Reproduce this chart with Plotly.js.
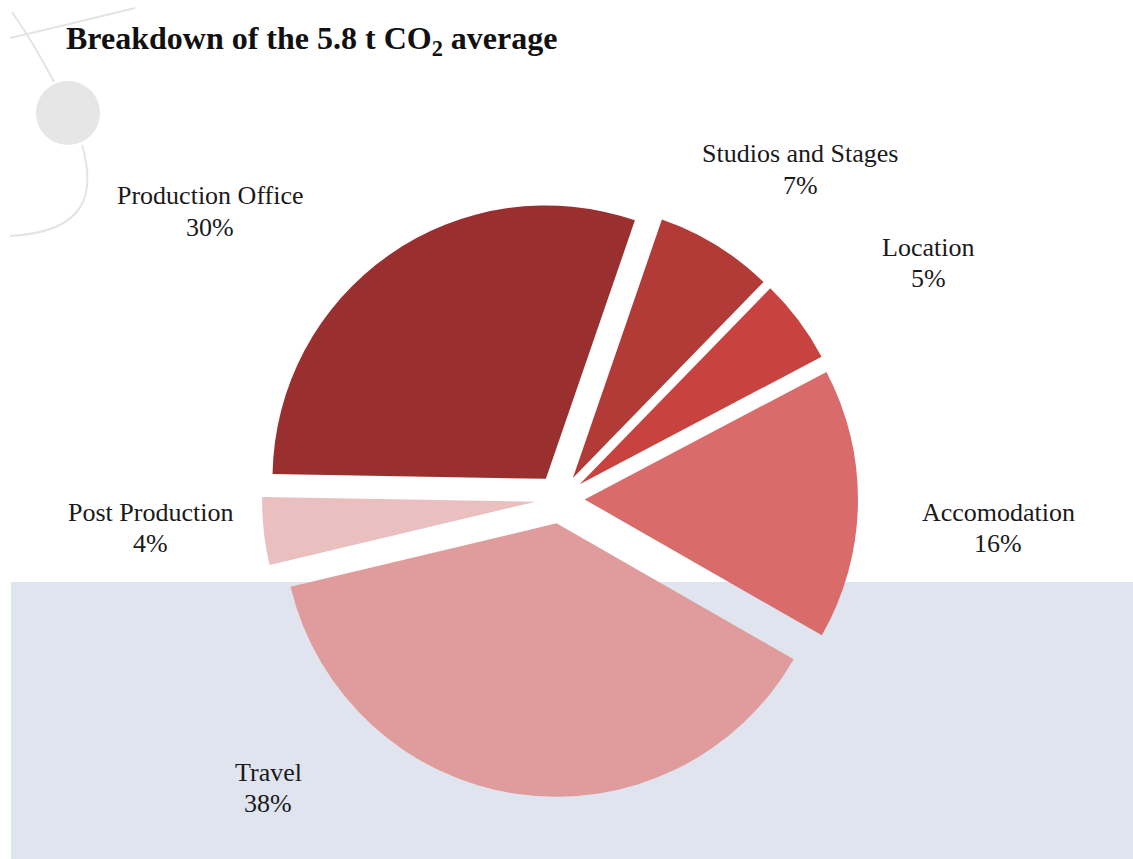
<!DOCTYPE html>
<html>
<head>
<meta charset="utf-8">
<script src="https://cdn.plot.ly/plotly-3.0.1.min.js"></script>
<style>html,body{margin:0;padding:0;background:#fff;} #chart{width:1133px;height:859px;}</style>
</head>
<body>
<div id="chart"></div>
<script>
// ---- data ----
const categories = ["Production Office", "Studios and Stages", "Location", "Accomodation", "Travel", "Post Production"];
const shares = [30, 7, 5, 16, 38, 4];
const sliceColors = ["#992f2e", "#b23b38", "#c8423f", "#d96c6b", "#e09c9c", "#e9bfc0"];
// label anchor positions (pixels, centre of the two-line block)
const labelPosX = [210, 800, 928, 998, 268, 150];
const labelPosY = [212, 170, 263, 528, 788, 528];

const W = 1133, H = 859;
const px = x => x / W;
const py = y => 1 - y / H;
function pathPx(cmds) {
  return cmds.map(c => c[0] + ' ' + c.slice(1).map((v, i) => i % 2 === 0 ? px(v).toFixed(5) : py(v).toFixed(5)).join(' ')).join(' ');
}

const cx = 560, cy = 499, half = 298;

const trace = {
  type: 'pie',
  labels: categories,
  values: shares,
  sort: false,
  direction: 'clockwise',
  rotation: -89,
  pull: categories.map(() => 0.09),
  marker: { colors: sliceColors, line: { width: 0 } },
  textinfo: 'none',
  hoverinfo: 'skip',
  showlegend: false,
  domain: { x: [px(cx - half), px(cx + half)], y: [py(cy + half), py(cy - half)] }
};

const labelFont = { family: 'Liberation Serif, serif', size: 26, color: '#1a1a1a' };
const annotations = [];
categories.forEach((c, i) => {
  annotations.push({
    xref: 'paper', yref: 'paper', x: px(labelPosX[i]), y: py(labelPosY[i] - 16),
    xanchor: 'center', yanchor: 'middle', text: c, showarrow: false, font: labelFont
  });
  annotations.push({
    xref: 'paper', yref: 'paper', x: px(labelPosX[i]), y: py(labelPosY[i] + 15),
    xanchor: 'center', yanchor: 'middle', text: shares[i] + '%', showarrow: false, font: labelFont
  });
});

const deco = '#e4e4e4';
const shapes = [
  { type: 'rect', xref: 'paper', yref: 'paper', x0: px(11), x1: 1, y0: 0, y1: py(582),
    fillcolor: '#dfe4ef', line: { width: 0 }, layer: 'below' },
  { type: 'circle', xref: 'paper', yref: 'paper', x0: px(36), x1: px(100), y0: py(145), y1: py(81),
    fillcolor: '#e6e6e6', line: { width: 0 }, layer: 'below' },
  { type: 'path', xref: 'paper', yref: 'paper', layer: 'below', line: { color: deco, width: 2 },
    path: pathPx([['M', 10, 38], ['Q', 70, 24, 135, 8]]) },
  { type: 'path', xref: 'paper', yref: 'paper', layer: 'below', line: { color: deco, width: 2 },
    path: pathPx([['M', 12, 12], ['Q', 35, 45, 54, 82]]) },
  { type: 'path', xref: 'paper', yref: 'paper', layer: 'below', line: { color: deco, width: 2 },
    path: pathPx([['M', 82, 145], ['C', 95, 190, 90, 232, 10, 236]]) }
];

const layout = {
  width: W, height: H,
  margin: { l: 0, r: 0, t: 0, b: 0 },
  paper_bgcolor: '#ffffff',
  plot_bgcolor: '#ffffff',
  title: {
    text: 'Breakdown of the 5.8 t CO<sub>2</sub> average',
    x: px(66), xanchor: 'left', xref: 'paper',
    y: py(38), yanchor: 'middle', yref: 'paper',
    font: { family: 'Liberation Serif, serif', size: 32, color: '#111111', weight: 'bold' }
  },
  shapes: shapes,
  annotations: annotations
};

Plotly.newPlot('chart', [trace], layout, { displayModeBar: false, staticPlot: true });
</script>
</body>
</html>
